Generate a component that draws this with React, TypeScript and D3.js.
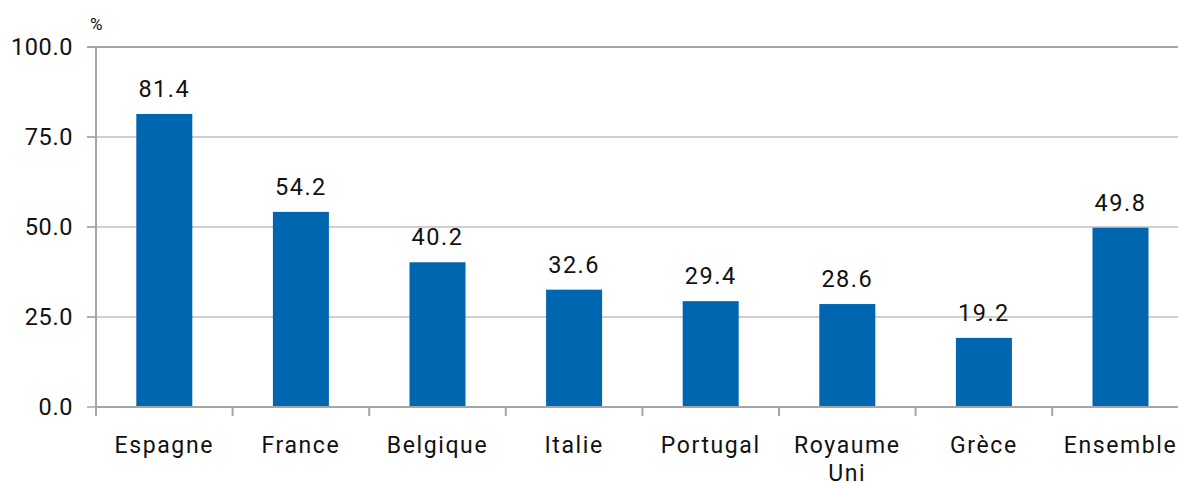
import React from "react";
import * as d3 from "d3";

const categories: string[][] = [
  ["Espagne"],
  ["France"],
  ["Belgique"],
  ["Italie"],
  ["Portugal"],
  ["Royaume", "Uni"],
  ["Grèce"],
  ["Ensemble"],
];
const values: number[] = [81.4, 54.2, 40.2, 32.6, 29.4, 28.6, 19.2, 49.8];
const yTicks: number[] = [0, 25, 50, 75, 100];
const unitLabel = "%";

const W = 1178;
const H = 483;
const FONT = "Roboto, 'DejaVu Sans', sans-serif";

export default function App() {
  const left = 96;
  const step = 136.6;
  const x = d3
    .scaleBand<number>()
    .domain(values.map((_, i) => i))
    .range([left, left + step * categories.length])
    .paddingInner(0.59)
    .paddingOuter(0.295);
  const y = d3.scaleLinear().domain([0, 100]).range([407, 47]);
  const bw = x.bandwidth();
  const st = x.step();

  return (
    <svg
      width={W}
      height={H}
      style={{ position: "absolute", left: 0, top: 0, background: "#fff" }}
      fontFamily={FONT}
    >
      {yTicks.map((t) => (
        <g key={t}>
          {t > 0 && (
            <line
              x1={87}
              x2={W}
              y1={y(t)}
              y2={y(t)}
              stroke={t === 100 ? "#a6a6a6" : "#bfbfbf"}
              strokeWidth={t === 100 ? 2 : 1.5}
            />
          )}
          <line x1={87} x2={left} y1={y(t)} y2={y(t)} stroke="#a6a6a6" strokeWidth={1.5} />
          <text
            x={73}
            y={y(t)}
            dy="0.36em"
            textAnchor="end"
            fontSize={23.5}
            letterSpacing={0.6}
            fill="#111"
          >
            {t.toFixed(1)}
          </text>
        </g>
      ))}
      <text x={90} y={30} fontSize={17} fill="#111">
        {unitLabel}
      </text>
      {values.map((v, i) => (
        <g key={i}>
          <rect
            x={x(i)!}
            y={y(v)}
            width={bw}
            height={y(0) - y(v)}
            fill="#0066b0"
          />
          <text
            x={x(i)! + bw / 2}
            y={y(v) - 17}
            textAnchor="middle"
            fontSize={23.5}
            letterSpacing={1.5}
            fill="#111"
          >
            {v.toFixed(1)}
          </text>
          {categories[i].map((line, j) => (
            <text
              key={j}
              x={x(i)! + bw / 2}
              y={453 + j * 28}
              textAnchor="middle"
              fontSize={23}
              letterSpacing={1.6}
              fill="#111"
            >
              {line}
            </text>
          ))}
        </g>
      ))}
      <line x1={left} x2={W} y1={y(0)} y2={y(0)} stroke="#a6a6a6" strokeWidth={2} />
      <line x1={left} x2={left} y1={47} y2={416} stroke="#a6a6a6" strokeWidth={2} />
      {d3.range(categories.length + 1).map((i) => (
        <line
          key={i}
          x1={left + i * st}
          x2={left + i * st}
          y1={407}
          y2={416}
          stroke="#a6a6a6"
          strokeWidth={2}
        />
      ))}
    </svg>
  );
}
